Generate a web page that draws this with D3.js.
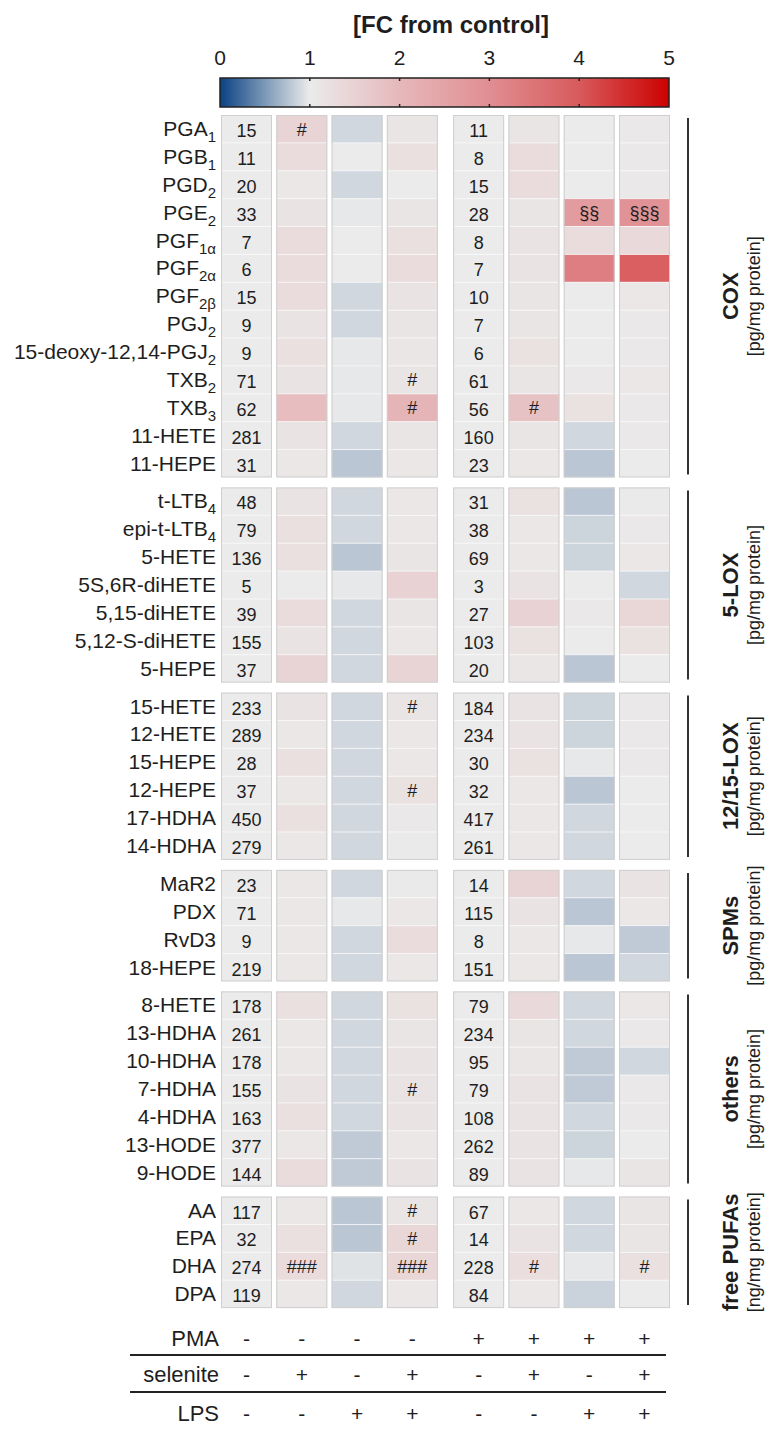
<!DOCTYPE html>
<html>
<head>
<meta charset="utf-8">
<script src="https://cdn.jsdelivr.net/npm/d3@7"></script>
<style>
body { margin: 0; background: #fff; }
text { font-family: "Liberation Sans", Arial, sans-serif; fill: #1e1e1e; }
</style>
</head>
<body>
<svg id="chart" width="784" height="1439"></svg>
<script>
// ---- data ----
var groupNames = ["COX", "5-LOX", "12/15-LOX", "SPMs", "others", "free PUFAs"];
var groupUnits = ["[pg/mg protein]", "[pg/mg protein]", "[pg/mg protein]", "[pg/mg protein]", "[pg/mg protein]", "[ng/mg protein]"];
var groupSizes = [13, 7, 6, 4, 7, 4];

// "_" separates the subscript part of a name
var analytes = ["PGA_1", "PGB_1", "PGD_2", "PGE_2", "PGF_1α", "PGF_2α", "PGF_2β", "PGJ_2", "15-deoxy-12,14-PGJ_2", "TXB_2", "TXB_3", "11-HETE", "11-HEPE",
  "t-LTB_4", "epi-t-LTB_4", "5-HETE", "5S,6R-diHETE", "5,15-diHETE", "5,12-S-diHETE", "5-HEPE",
  "15-HETE", "12-HETE", "15-HEPE", "12-HEPE", "17-HDHA", "14-HDHA",
  "MaR2", "PDX", "RvD3", "18-HEPE",
  "8-HETE", "13-HDHA", "10-HDHA", "7-HDHA", "4-HDHA", "13-HODE", "9-HODE",
  "AA", "EPA", "DHA", "DPA"];

var ctrlValues = [15, 11, 20, 33, 7, 6, 15, 9, 9, 71, 62, 281, 31,
  48, 79, 136, 5, 39, 155, 37,
  233, 289, 28, 37, 450, 279,
  23, 71, 9, 219,
  178, 261, 178, 155, 163, 377, 144,
  117, 32, 274, 119];
var pmaValues = [11, 8, 15, 28, 8, 7, 10, 7, 6, 61, 56, 160, 23,
  31, 38, 69, 3, 27, 103, 20,
  184, 234, 30, 32, 417, 261,
  14, 115, 8, 151,
  79, 234, 95, 79, 108, 262, 89,
  67, 14, 228, 84];

// fold change from control
var fcSel = [1.45, 1.3, 1.08, 1.15, 1.3, 1.3, 1.3, 1.15, 1.22, 1.15, 1.9, 1.15, 1.08,
  1.15, 1.22, 1.22, 1.0, 1.3, 1.15, 1.45,
  1.15, 1.08, 1.22, 1.08, 1.22, 1.08,
  1.08, 1.08, 1.08, 1.08,
  1.22, 1.08, 1.08, 1.15, 1.22, 1.08, 1.3,
  1.08, 1.22, 1.3, 1.08];
var fcLps = [0.88, 1.0, 0.88, 0.98, 1.0, 1.0, 0.88, 0.88, 0.98, 0.98, 0.98, 0.88, 0.78,
  0.88, 0.88, 0.78, 0.98, 0.88, 0.88, 0.88,
  0.88, 0.88, 0.88, 0.88, 0.88, 0.88,
  0.88, 0.98, 0.88, 0.88,
  0.88, 0.88, 0.88, 0.88, 0.88, 0.8, 0.8,
  0.78, 0.78, 0.95, 0.88];
var fcSelLps = [1.12, 1.22, 1.0, 1.12, 1.22, 1.3, 1.15, 1.12, 1.1, 1.12, 2.1, 1.12, 1.08,
  1.08, 1.08, 1.12, 1.5, 1.12, 1.08, 1.45,
  1.12, 1.08, 1.08, 1.2, 1.05, 1.02,
  1.02, 1.08, 1.3, 1.08,
  1.2, 1.12, 1.15, 1.15, 1.15, 1.08, 1.15,
  1.12, 1.4, 1.4, 1.08];
var fcPmaSel = [1.12, 1.3, 1.3, 1.12, 1.15, 1.15, 1.12, 1.12, 1.2, 1.12, 1.8, 1.12, 1.08,
  1.2, 1.08, 1.08, 1.15, 1.5, 1.2, 1.1,
  1.15, 1.15, 1.2, 1.08, 1.08, 1.08,
  1.45, 1.15, 1.08, 1.08,
  1.35, 1.12, 1.1, 1.15, 1.15, 1.15, 1.15,
  1.08, 1.15, 1.25, 1.08];
var fcPmaLps = [1.0, 1.0, 1.0, 2.7, 1.3, 3.3, 1.0, 1.0, 1.0, 1.05, 1.2, 0.88, 0.78,
  0.78, 0.86, 0.86, 1.0, 1.05, 1.0, 0.78,
  0.86, 0.86, 0.98, 0.78, 0.88, 0.88,
  0.88, 0.78, 0.98, 0.78,
  0.88, 0.88, 0.8, 0.8, 0.88, 0.86, 0.98,
  0.88, 0.88, 0.98, 0.85];
var fcPmaSelLps = [1.05, 1.05, 1.05, 2.9, 1.35, 3.9, 1.08, 1.05, 1.05, 1.08, 1.05, 1.05, 1.0,
  1.02, 1.05, 1.08, 0.88, 1.4, 1.2, 1.0,
  1.05, 1.05, 1.05, 1.0, 1.0, 1.0,
  1.15, 1.08, 0.8, 0.88,
  1.08, 1.05, 0.88, 1.05, 1.05, 1.0, 1.12,
  1.12, 1.12, 1.22, 1.0];

// [analyte, column, mark]
var sigMarks = [["PGA_1", 1, "#"], ["PGE_2", 6, "§§"], ["PGE_2", 7, "§§§"], ["TXB_2", 3, "#"], ["TXB_3", 3, "#"], ["TXB_3", 5, "#"],
  ["15-HETE", 3, "#"], ["12-HEPE", 3, "#"], ["7-HDHA", 3, "#"], ["AA", 3, "#"], ["EPA", 3, "#"],
  ["DHA", 1, "###"], ["DHA", 3, "###"], ["DHA", 5, "#"], ["DHA", 7, "#"]];

var treatNames = ["PMA", "selenite", "LPS"];
var pmaSigns = ["-", "-", "-", "-", "+", "+", "+", "+"];
var seleniteSigns = ["-", "+", "-", "+", "-", "+", "-", "+"];
var lpsSigns = ["-", "-", "+", "+", "-", "-", "+", "+"];

var barTicks = [0, 1, 2, 3, 4, 5];

// ---- scales ----
var svg = d3.select('#chart');
var color = d3.scaleLinear()
  .domain([0, 0.5, 1, 2, 3, 4, 5])
  .range(["#0a4283", "#7c98b7", "#ebebeb", "#e6b8bb", "#e08e92", "#d85a5c", "#cc0000"])
  .clamp(true);

var columns = [ctrlValues, fcSel, fcLps, fcSelLps, pmaValues, fcPmaSel, fcPmaLps, fcPmaSelLps];
var colStep = d3.scaleLinear().domain([0, 7]).range([221, 608]);
function colX(i) { return colStep(i) + (i >= 4 ? 11 : 0); }
var colW = 51;

var rowH = 27.88, gapH = 10;
var rowGroup = [], groupStart = [];
groupSizes.forEach(function(n, g) {
  groupStart.push(rowGroup.length);
  for (var k = 0; k < n; k++) rowGroup.push(g);
});
var yRow = d3.scaleLinear().domain([0, 1]).range([115, 115 + rowH]);
function rowTop(r) { return yRow(r) + rowGroup[r] * gapH; }
function groupTop(g) { return rowTop(groupStart[g]); }
function groupBottom(g) { return rowTop(groupStart[g] + groupSizes[g] - 1) + rowH; }

// ---- colour bar ----
var barX = d3.scaleLinear().domain([0, 5]).range([220, 669]);
var grad = svg.append('defs').append('linearGradient').attr('id', 'fcgrad');
grad.selectAll('stop').data(d3.range(0, 5.01, 0.25)).enter().append('stop')
  .attr('offset', function(d) { return (d / 5 * 100) + '%'; })
  .attr('stop-color', function(d) { return color(d); });

svg.append('text').attr('x', 451).attr('y', 33).attr('text-anchor', 'middle')
  .style('font-size', '24px').style('font-weight', 'bold').text('[FC from control]');

svg.append('rect').attr('x', barX(0)).attr('y', 78).attr('width', barX(5) - barX(0)).attr('height', 29)
  .attr('fill', 'url(#fcgrad)').attr('stroke', '#222').attr('stroke-width', 1.5);

var barAxis = svg.append('g');
barAxis.selectAll('text').data(barTicks).enter().append('text')
  .attr('x', function(d) { return barX(d); }).attr('y', 65).attr('text-anchor', 'middle')
  .style('font-size', '21px').text(function(d) { return d; });
barAxis.selectAll('line.top').data(barTicks.slice(1, 5)).enter().append('line')
  .attr('x1', function(d) { return barX(d); }).attr('x2', function(d) { return barX(d); })
  .attr('y1', 78).attr('y2', 81).attr('stroke', '#222').attr('stroke-width', 1.5);
barAxis.selectAll('line.bot').data(barTicks.slice(1, 5)).enter().append('line')
  .attr('x1', function(d) { return barX(d); }).attr('x2', function(d) { return barX(d); })
  .attr('y1', 104).attr('y2', 107).attr('stroke', '#222').attr('stroke-width', 1.5);

// ---- heat map cells ----
var cells = [];
analytes.forEach(function(a, r) {
  columns.forEach(function(col, c) { cells.push({ r: r, c: c, v: col[r] }); });
});

svg.append('g').selectAll('rect').data(cells).enter().append('rect')
  .attr('x', function(d) { return colX(d.c); })
  .attr('y', function(d) { return rowTop(d.r); })
  .attr('width', colW).attr('height', rowH)
  .attr('fill', function(d) { return (d.c === 0 || d.c === 4) ? '#ebebeb' : color(d.v); });

// thin white separators between rows
svg.append('g').selectAll('line').data(cells.filter(function(d) { return groupStart.indexOf(d.r) < 0; })).enter().append('line')
  .attr('x1', function(d) { return colX(d.c) + 1; })
  .attr('x2', function(d) { return colX(d.c) + colW - 1; })
  .attr('y1', function(d) { return rowTop(d.r); })
  .attr('y2', function(d) { return rowTop(d.r); })
  .attr('stroke', '#fafafa').attr('stroke-width', 1).attr('opacity', 0.8);

// block borders
var blocks = [];
groupSizes.forEach(function(n, g) { columns.forEach(function(col, c) { blocks.push({ g: g, c: c }); }); });
svg.append('g').selectAll('rect').data(blocks).enter().append('rect')
  .attr('x', function(d) { return colX(d.c) + 0.5; })
  .attr('y', function(d) { return groupTop(d.g) + 0.5; })
  .attr('width', colW - 1)
  .attr('height', function(d) { return groupBottom(d.g) - groupTop(d.g) - 1; })
  .attr('fill', 'none').attr('stroke', '#cfcfcf').attr('stroke-width', 1);

// absolute values in columns 0 and 4
svg.append('g').selectAll('text').data(cells.filter(function(d) { return d.c === 0 || d.c === 4; })).enter().append('text')
  .attr('x', function(d) { return colX(d.c) + colW / 2; })
  .attr('y', function(d) { return rowTop(d.r) + 22; })
  .attr('text-anchor', 'middle').style('font-size', '18px')
  .text(function(d) { return d.v; });

// significance marks
svg.append('g').selectAll('text').data(sigMarks).enter().append('text')
  .attr('x', function(d) { return colX(d[1]) + colW / 2; })
  .attr('y', function(d) { return rowTop(analytes.indexOf(d[0])) + 20.5; })
  .attr('text-anchor', 'middle').style('font-size', '18px')
  .text(function(d) { return d[2]; });

// row labels
var labels = svg.append('g').selectAll('text').data(analytes).enter().append('text')
  .attr('x', 216)
  .attr('y', function(d, i) { return rowTop(i) + 21; })
  .attr('text-anchor', 'end').style('font-size', '21px');
labels.each(function(d) {
  var parts = d.split('_');
  var t = d3.select(this);
  t.append('tspan').text(parts[0]);
  if (parts[1]) t.append('tspan').attr('dy', 6).style('font-size', '15px').text(parts[1]);
});

// ---- group brackets on the right ----
var side = svg.append('g');
groupNames.forEach(function(name, g) {
  var y0 = groupTop(g), y1 = groupBottom(g), ym = (y0 + y1) / 2;
  side.append('line').attr('x1', 688).attr('x2', 688).attr('y1', y0 + 3).attr('y2', y1 - 3)
    .attr('stroke', '#333').attr('stroke-width', 2);
  side.append('text').attr('transform', 'translate(738,' + ym + ') rotate(-90)')
    .attr('text-anchor', 'middle').style('font-size', '22px').style('font-weight', 'bold').text(name);
  side.append('text').attr('transform', 'translate(760,' + ym + ') rotate(-90)')
    .attr('text-anchor', 'middle').style('font-size', '18px').text(groupUnits[g]);
});

// ---- treatment table ----
var treatSigns = [pmaSigns, seleniteSigns, lpsSigns];
var treatY = [1346, 1382, 1421];
var treat = svg.append('g');
treatNames.forEach(function(name, k) {
  treat.append('text').attr('x', 219).attr('y', treatY[k]).attr('text-anchor', 'end')
    .style('font-size', '22px').text(name);
  treat.selectAll('text.s' + k).data(treatSigns[k]).enter().append('text')
    .attr('class', 's' + k)
    .attr('x', function(d, i) { return colX(i) + colW / 2; })
    .attr('y', treatY[k]).attr('text-anchor', 'middle').style('font-size', '21px')
    .text(function(d) { return d; });
});
treat.selectAll('line').data([1355, 1392]).enter().append('line')
  .attr('x1', 130).attr('x2', 666).attr('y1', function(d) { return d; }).attr('y2', function(d) { return d; })
  .attr('stroke', '#222').attr('stroke-width', 2);
</script>
</body>
</html>
